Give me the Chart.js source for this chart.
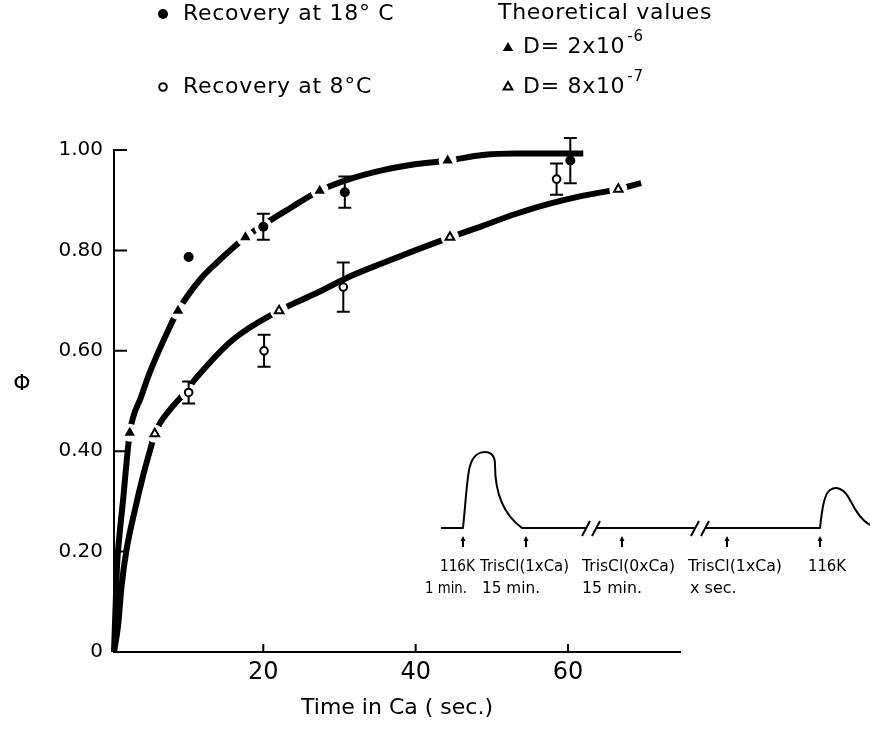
<!DOCTYPE html>
<html>
<head>
<meta charset="utf-8">
<title>Recovery of Phi in Ca</title>
<script src="https://cdn.jsdelivr.net/npm/chart.js@4.4.1/dist/chart.umd.min.js"></script>
<style>
  html, body { margin: 0; padding: 0; background: #fff; }
  #wrap { width: 870px; height: 730px; }
</style>
</head>
<body>
<div id="wrap"><canvas id="phiChart" width="870" height="730"></canvas></div>
<script>
// Values: time in Ca (sec.) and Phi

// theoretical curve, D = 2x10^-6
const curveFastT   = [0.4, 0.63, 0.8, 1.15, 1.6, 2.0, 2.47, 4.0, 5.1, 7.7, 8.8, 11.7, 13.85, 17.65, 20.0, 23.5, 27.4, 31.3, 35.7, 40.1, 44.2, 48.8, 53.2, 62.0];
const curveFastPhi = [0, 0.1, 0.172, 0.238, 0.304, 0.37, 0.437, 0.51, 0.557, 0.647, 0.68, 0.742, 0.775, 0.826, 0.851, 0.884, 0.919, 0.942, 0.960, 0.972, 0.979, 0.990, 0.993, 0.993];

// theoretical curve, D = 8x10^-7
const curveSlowT   = [0.4, 0.93, 1.4, 2.06, 3.1, 4.2, 5.0, 5.75, 6.4, 7.7, 9.5, 11.2, 16.0, 22.07, 27.0, 31.35, 35.7, 40.1, 44.5, 48.8, 53.2, 57.6, 62.0, 66.6, 69.6];
const curveSlowPhi = [0, 0.052, 0.132, 0.205, 0.28, 0.35, 0.395, 0.433, 0.455, 0.482, 0.513, 0.546, 0.622, 0.68, 0.715, 0.748, 0.775, 0.801, 0.826, 0.849, 0.873, 0.893, 0.909, 0.922, 0.934];

// theoretical values (triangles)
const triFastT   = [2.47, 8.8, 17.65, 27.4, 44.2];
const triFastPhi = [0.437, 0.68, 0.826, 0.919, 0.979];
const triSlowT   = [5.75, 22.07, 44.5, 66.6];
const triSlowPhi = [0.435, 0.68, 0.826, 0.922];

// measured recovery, with half length of the error bar
const rec18T   = [10.2, 20.0, 30.7, 60.3];
const rec18Phi = [0.787, 0.847, 0.916, 0.979];
const rec18Err = [0, 0.026, 0.031, 0.045];
const rec8T    = [10.2, 20.1, 30.5, 58.5];
const rec8Phi  = [0.517, 0.600, 0.727, 0.942];
const rec8Err  = [0.022, 0.032, 0.049, 0.031];

const xTicks = [20, 40, 60];
const yTicks = [0, 0.2, 0.4, 0.6, 0.8, 1.0];

const FONT = "'DejaVu Sans', 'Liberation Sans', sans-serif";
const HALO_INDEX = 2;

function pts(xs, ys) {
    return xs.map((x, i) => ({ x: x, y: ys[i] }));
}

// the curves are broken where a marker sits on them
const haloPoints = pts(triFastT, triFastPhi).concat(
    pts(triSlowT, triSlowPhi),
    [{ x: rec18T[1], y: rec18Phi[1] }, { x: rec8T[0], y: rec8Phi[0] }]
);

// small ticks pointing into the plot
const innerTicks = {
    id: 'innerTicks',
    afterDraw(chart) {
        const ctx = chart.ctx;
        const xs = chart.scales.x, ys = chart.scales.y;
        const area = chart.chartArea;
        ctx.save();
        ctx.strokeStyle = '#000';
        ctx.lineWidth = 2;
        ctx.beginPath();
        xTicks.forEach(v => {
            const px = xs.getPixelForValue(v);
            ctx.moveTo(px, area.bottom);
            ctx.lineTo(px, area.bottom - 8);
        });
        yTicks.forEach(v => {
            if (v === 0) return;
            const py = ys.getPixelForValue(v);
            ctx.moveTo(area.left, py);
            ctx.lineTo(area.left + 13, py);
        });
        ctx.stroke();
        ctx.restore();
    }
};

// error bars, drawn after the gaps are cut but before the markers
const errorBars = {
    id: 'errorBars',
    afterDatasetDraw(chart, args) {
        if (args.index !== HALO_INDEX) return;
        const ctx = chart.ctx;
        const xs = chart.scales.x, ys = chart.scales.y;
        ctx.save();
        ctx.strokeStyle = '#000';
        ctx.lineWidth = 2;
        const draw = (ts, vals, errs) => {
            ts.forEach((t, i) => {
                if (!errs[i]) return;
                const px = xs.getPixelForValue(t);
                const top = ys.getPixelForValue(vals[i] + errs[i]);
                const bot = ys.getPixelForValue(vals[i] - errs[i]);
                ctx.beginPath();
                ctx.moveTo(px, top); ctx.lineTo(px, bot);
                ctx.moveTo(px - 6.5, top); ctx.lineTo(px + 6.5, top);
                ctx.moveTo(px - 6.5, bot); ctx.lineTo(px + 6.5, bot);
                ctx.stroke();
            });
        };
        draw(rec18T, rec18Phi, rec18Err);
        draw(rec8T, rec8Phi, rec8Err);
        ctx.restore();
    }
};

function marker(ctx, kind, x, y, filled) {
    ctx.beginPath();
    if (kind === 'circle') {
        ctx.arc(x, y, filled ? 5 : 3.8, 0, Math.PI * 2);
    } else {
        const r = filled ? 6 : 5;
        ctx.moveTo(x, y - r);
        ctx.lineTo(x + r * 0.866, y + r * 0.5);
        ctx.lineTo(x - r * 0.866, y + r * 0.5);
        ctx.closePath();
    }
    if (filled) {
        ctx.fillStyle = '#000';
        ctx.fill();
    } else {
        ctx.fillStyle = '#fff';
        ctx.fill();
        ctx.lineWidth = 2;
        ctx.stroke();
    }
    ctx.fillStyle = '#000';
}

function textSup(ctx, base, sup, x, y) {
    ctx.font = '22px ' + FONT;
    ctx.fillText(base, x, y);
    const w = ctx.measureText(base).width;
    ctx.font = '15px ' + FONT;
    ctx.fillText(sup, x + w + 2, y - 10);
}

// key, Phi label and the inset protocol sketch
const annotations = {
    id: 'annotations',
    afterDraw(chart) {
        const ctx = chart.ctx;
        ctx.save();
        ctx.fillStyle = '#000';
        ctx.strokeStyle = '#000';
        ctx.textBaseline = 'middle';
        ctx.textAlign = 'left';

        // key
        marker(ctx, 'circle', 163, 14, true);
        marker(ctx, 'circle', 163, 87, false);
        marker(ctx, 'triangle', 508, 48, true);
        marker(ctx, 'triangle', 508, 87, false);
        ctx.letterSpacing = '0.7px';
        ctx.font = '22px ' + FONT;
        ctx.fillText('Recovery at 18\u00b0 C', 183, 14);
        ctx.fillText('Recovery at 8\u00b0C', 183, 87);
        ctx.fillText('Theoretical values', 498, 13);
        textSup(ctx, 'D= 2x10', '-6', 523, 47);
        textSup(ctx, 'D= 8x10', '-7', 523, 87);
        ctx.letterSpacing = '0px';

        // y axis symbol
        ctx.font = '22px ' + FONT;
        ctx.textAlign = 'center';
        ctx.fillText('\u03a6', 22, 384);

        // inset: stimulation protocol
        ctx.lineWidth = 2;
        ctx.lineJoin = 'round';
        ctx.beginPath();
        ctx.moveTo(441, 528);
        ctx.lineTo(463, 528);
        ctx.bezierCurveTo(466, 500, 467, 475, 470, 466);
        ctx.bezierCurveTo(473, 455, 480, 452, 485, 452);
        ctx.bezierCurveTo(492, 452, 495, 456, 495, 465);
        ctx.bezierCurveTo(495, 485, 500, 512, 522, 528);
        ctx.lineTo(586, 528);
        ctx.moveTo(597, 528);
        ctx.lineTo(695, 528);
        ctx.moveTo(706, 528);
        ctx.lineTo(820, 528);
        ctx.bezierCurveTo(822, 510, 824, 494, 830, 490);
        ctx.bezierCurveTo(836, 486, 844, 488, 850, 500);
        ctx.bezierCurveTo(856, 512, 862, 521, 870, 525);
        ctx.stroke();

        // breaks in the trace
        ctx.beginPath();
        [582, 592, 691, 701].forEach(bx => {
            ctx.moveTo(bx, 536);
            ctx.lineTo(bx + 8, 521);
        });
        ctx.stroke();

        // arrows marking the solution changes
        [463, 526, 622, 727, 820].forEach(ax => {
            ctx.beginPath();
            ctx.moveTo(ax, 547);
            ctx.lineTo(ax, 540);
            ctx.stroke();
            ctx.beginPath();
            ctx.moveTo(ax, 536);
            ctx.lineTo(ax + 2.5, 541);
            ctx.lineTo(ax - 2.5, 541);
            ctx.closePath();
            ctx.fill();
        });

        ctx.textAlign = 'left';
        ctx.font = '16px ' + FONT;
        ctx.fillText('116K', 440, 567, 35);
        ctx.fillText('TrisCl(1xCa)', 480, 567, 89);
        ctx.fillText('TrisCl(0xCa)', 582, 567, 93);
        ctx.fillText('TrisCl(1xCa)', 688, 567, 94);
        ctx.fillText('116K', 808, 567, 38);
        ctx.fillText('1 min.', 425, 589, 42);
        ctx.fillText('15 min.', 482, 589, 58);
        ctx.fillText('15 min.', 582, 589, 60);
        ctx.fillText('x sec.', 690, 589, 53);

        ctx.restore();
    }
};

const ctx = document.getElementById('phiChart');
new Chart(ctx, {
    type: 'scatter',
    data: {
        datasets: [
            {
                label: 'D = 2x10-6 curve',
                data: pts(curveFastT, curveFastPhi),
                showLine: true,
                borderColor: '#000',
                borderWidth: 6,
                borderCapStyle: 'butt',
                cubicInterpolationMode: 'monotone',
                pointRadius: 0,
                clip: false,
                order: 6
            },
            {
                label: 'D = 8x10-7 curve',
                data: pts(curveSlowT, curveSlowPhi),
                showLine: true,
                borderColor: '#000',
                borderWidth: 6,
                borderCapStyle: 'butt',
                cubicInterpolationMode: 'monotone',
                pointRadius: 0,
                clip: false,
                order: 6
            },
            {
                label: 'gaps',
                data: haloPoints,
                pointStyle: 'circle',
                pointRadius: 9,
                backgroundColor: '#fff',
                borderWidth: 0,
                order: 5
            },
            {
                label: 'D = 2x10-6',
                data: pts(triFastT, triFastPhi),
                pointStyle: 'triangle',
                pointRadius: 6,
                backgroundColor: '#000',
                borderWidth: 0,
                order: 3
            },
            {
                label: 'D = 8x10-7',
                data: pts(triSlowT, triSlowPhi),
                pointStyle: 'triangle',
                pointRadius: 5,
                backgroundColor: '#fff',
                borderColor: '#000',
                borderWidth: 2,
                order: 3
            },
            {
                label: 'Recovery at 18 C',
                data: pts(rec18T, rec18Phi),
                pointStyle: 'circle',
                pointRadius: 5,
                backgroundColor: '#000',
                borderWidth: 0,
                order: 2
            },
            {
                label: 'Recovery at 8 C',
                data: pts(rec8T, rec8Phi),
                pointStyle: 'circle',
                pointRadius: 3.8,
                backgroundColor: '#fff',
                borderColor: '#000',
                borderWidth: 2,
                order: 2
            }
        ]
    },
    options: {
        responsive: false,
        animation: false,
        layout: { padding: { top: 150, right: 190, bottom: 0, left: 0 } },
        plugins: { legend: { display: false }, tooltip: { enabled: false } },
        scales: {
            x: {
                type: 'linear',
                min: 0.4,
                max: 74.7,
                afterBuildTicks: (scale) => { scale.ticks = xTicks.map(v => ({ value: v })); },
                afterFit: (scale) => { scale.height = 78; },
                grid: { display: false, drawTicks: false },
                border: { display: true, color: '#000', width: 2 },
                ticks: { color: '#000', padding: 6, font: { family: FONT, size: 24 } },
                title: {
                    display: true,
                    text: 'Time in Ca ( sec.)',
                    color: '#000',
                    font: { family: FONT, size: 22 },
                    padding: { top: 0, bottom: 9 }
                }
            },
            y: {
                type: 'linear',
                min: 0,
                max: 1,
                afterBuildTicks: (scale) => { scale.ticks = yTicks.map(v => ({ value: v })); },
                afterFit: (scale) => { scale.width = 114; },
                grid: { display: false, drawTicks: false },
                border: { display: true, color: '#000', width: 2 },
                ticks: {
                    color: '#000',
                    padding: 11,
                    font: { family: FONT, size: 20 },
                    callback: (v) => v === 0 ? '0' : v.toFixed(2)
                }
            }
        }
    },
    plugins: [errorBars, innerTicks, annotations]
});
</script>
</body>
</html>
